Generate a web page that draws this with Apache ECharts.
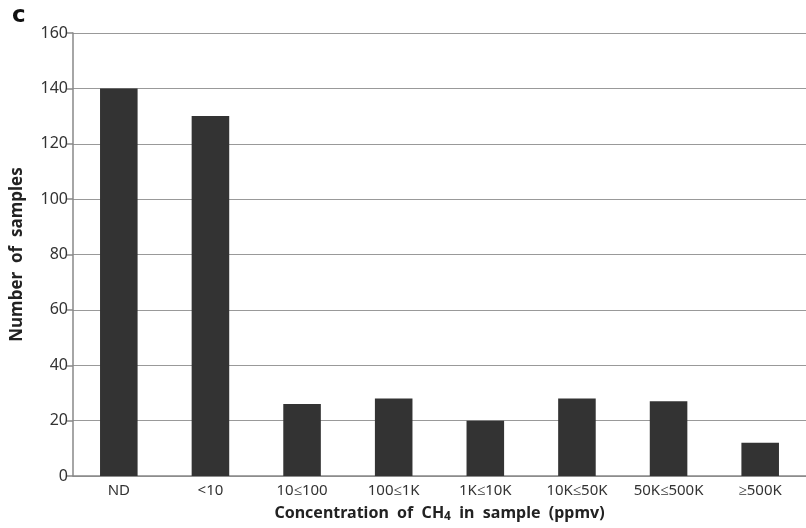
<!DOCTYPE html>
<html><head><meta charset="utf-8">
<script src="https://cdn.jsdelivr.net/npm/echarts@6/dist/echarts.min.js"></script>
<style>html,body{margin:0;padding:0;background:#fff}#c{width:806px;height:528px}</style>
</head><body><div id="c"></div>
<script>
const categories = ["ND", "<10", "10≤100", "100≤1K", "1K≤10K", "10K≤50K", "50K≤500K", "≥500K"];
const counts = [140, 130, 26, 28, 20, 28, 27, 12];
const yTicks = [0, 20, 40, 60, 80, 100, 120, 140, 160];

const chart = echarts.init(document.getElementById('c'), null, {renderer: 'canvas'});
chart.setOption({
  animation: false,
  backgroundColor: '#fff',
  textStyle: {fontFamily: 'Noto Sans'},
  title: {text: 'c', left: 7, top: 0, textStyle: {fontSize: 23, fontWeight: 'bold', color: '#111', fontFamily: 'DejaVu Sans'}},
  grid: {left: 73, right: 0, top: 33, bottom: 52, containLabel: false, outerBoundsMode: 'none'},
  xAxis: {
    type: 'category', data: categories,
    axisLine: {show: true, lineStyle: {color: '#888', width: 1.5}},
    axisTick: {show: false},
    axisLabel: {color: '#333', fontSize: 15, margin: 7, interval: 0},
    name: '{n|Concentration  of  CH}{s|4}{n|  in  sample  (ppmv)}',
    nameLocation: 'middle', nameGap: 27,
    nameTextStyle: {rich: {
      n: {fontSize: 16, fontWeight: 'bold', color: '#222', fontFamily: 'Noto Sans'},
      s: {fontSize: 12, fontWeight: 'bold', color: '#222', fontFamily: 'Noto Sans', verticalAlign: 'bottom', padding: [8, 0, 0, 0]}
    }}
  },
  yAxis: {
    type: 'value', min: 0, max: 160, interval: 20,
    axisLine: {show: true, lineStyle: {color: '#888', width: 1.5}},
    axisTick: {show: true, length: 6, inside: false, lineStyle: {color: '#888', width: 1.5}},
    axisLabel: {color: '#333', fontSize: 16, margin: 5,
      formatter: v => yTicks.includes(v) ? String(v) : ''},
    splitLine: {show: true, lineStyle: {color: '#999', width: 1.2}},
    name: 'Number  of  samples', nameLocation: 'middle', nameGap: 47,
    nameTextStyle: {fontSize: 17, fontWeight: 'bold', color: '#222'}
  },
  series: [{
    type: 'bar', data: counts, barWidth: '41%',
    itemStyle: {color: '#333333'}
  }]
});
</script></body></html>
